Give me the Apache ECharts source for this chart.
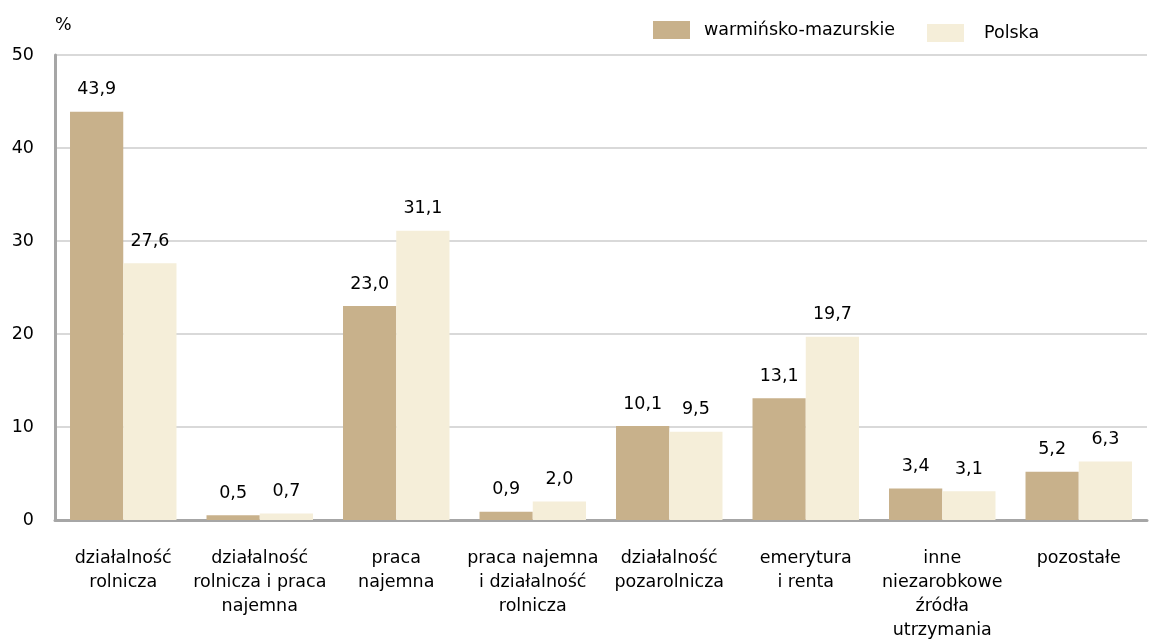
<!DOCTYPE html>
<html>
<head>
<meta charset="utf-8">
<script src="https://cdn.jsdelivr.net/npm/echarts@6/dist/echarts.min.js"></script>
<style>
  html, body { margin: 0; padding: 0; background: #fff; }
  #chart { width: 1150px; height: 644px; }
</style>
</head>
<body>
<div id="chart"></div>
<script>
// Źródła utrzymania gospodarstw domowych (%)
const categories = [
  'działalność\nrolnicza',
  'działalność\nrolnicza i praca\nnajemna',
  'praca\nnajemna',
  'praca najemna\ni działalność\nrolnicza',
  'działalność\npozarolnicza',
  'emerytura\ni renta',
  'inne\nniezarobkowe\nźródła\nutrzymania',
  'pozostałe'
];
const warminskoMazurskie = [43.9, 0.5, 23.0, 0.9, 10.1, 13.1, 3.4, 5.2];
const polska = [27.6, 0.7, 31.1, 2.0, 9.5, 19.7, 3.1, 6.3];
const seriesNames = ['warmińsko-mazurskie', 'Polska'];
const colors = ['#C8B18B', '#F5EED9'];

const FONT = '"DejaVu Sans", "Open Sans", sans-serif';
const FS = 17.5;
const fmt = v => v.toFixed(1).replace('.', ',');

const chart = echarts.init(document.getElementById('chart'), null, { renderer: 'canvas' });

const labelStyle = {
  show: true,
  position: 'top',
  distance: 13,
  fontFamily: FONT,
  fontSize: FS,
  color: '#000',
  formatter: p => fmt(p.value)
};

const legendBase = {
  itemWidth: 37,
  itemHeight: 18,
  icon: 'rect',
  padding: 0
};

chart.setOption({
  animation: false,
  backgroundColor: '#fff',
  textStyle: { fontFamily: FONT },
  legend: [
    Object.assign({}, legendBase, {
      top: 21,
      left: 653,
      data: [seriesNames[0]],
      textStyle: { fontFamily: FONT, fontSize: FS, color: '#000', padding: [0, 0, 0, 9] }
    }),
    Object.assign({}, legendBase, {
      top: 24,
      left: 927,
      data: [seriesNames[1]],
      textStyle: { fontFamily: FONT, fontSize: FS, color: '#000', padding: [0, 0, 0, 15] }
    })
  ],
  grid: { left: 55, right: 3, top: 55, bottom: 124, containLabel: false },
  xAxis: {
    type: 'category',
    data: categories,
    axisLine: { lineStyle: { color: '#A6A6A6', width: 3 } },
    axisTick: { show: false },
    axisLabel: {
      interval: 0,
      margin: 26,
      fontFamily: FONT,
      fontSize: FS,
      color: '#000',
      lineHeight: 24,
      align: 'center'
    }
  },
  yAxis: {
    type: 'value',
    min: 0,
    max: 50,
    interval: 10,
    name: '%',
    nameLocation: 'end',
    nameGap: 21,
    nameTextStyle: { fontFamily: FONT, fontSize: FS, color: '#000', align: 'left', padding: [0, 0, 0, 0] },
    axisLine: { show: true, lineStyle: { color: '#A6A6A6', width: 3 } },
    axisTick: { show: false },
    axisLabel: { margin: 21, fontFamily: FONT, fontSize: FS, color: '#000' },
    splitLine: { lineStyle: { color: '#D9D9D9', width: 2 } }
  },
  series: [
    {
      name: seriesNames[0],
      type: 'bar',
      data: warminskoMazurskie,
      itemStyle: { color: colors[0] },
      barGap: '0%',
      barCategoryGap: '22%',
      label: labelStyle
    },
    {
      name: seriesNames[1],
      type: 'bar',
      data: polska,
      itemStyle: { color: colors[1] },
      barGap: '0%',
      barCategoryGap: '22%',
      label: labelStyle
    }
  ]
});
</script>
</body>
</html>
